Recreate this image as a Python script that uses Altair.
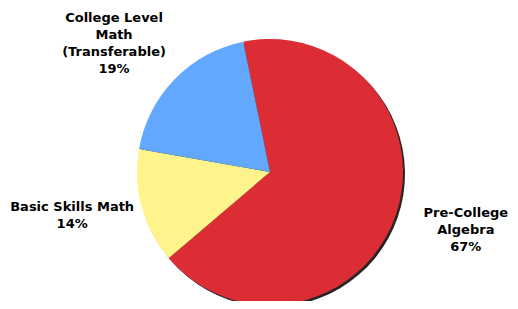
import altair as alt
import pandas as pd
import math

categories = ["Pre-College Algebra", "Basic Skills Math", "College Level Math (Transferable)"]
labels = ["Pre-College\nAlgebra\n67%", "Basic Skills Math\n14%", "College Level\nMath\n(Transferable)\n19%"]
values = [67, 14, 19]
colors = ["#DC2D35", "#FFF38C", "#63A8FF"]
order = [0, 1, 2]

df = pd.DataFrame({"cat": categories, "label": labels, "value": values, "ord": order})

start = math.radians(348.4)
theta_scale = alt.Scale(domain=[0, 100], range=[start, start + 2 * math.pi])
cx, cy = 262, 164

base = alt.Chart(df).encode(
    theta=alt.Theta("value:Q", stack=True, scale=theta_scale),
    order=alt.Order("ord:Q"),
)

shadow = base.mark_arc(radius=133, color="black", opacity=0.85).encode(
    x=alt.value(cx + 2), y=alt.value(cy + 2)
)

pie = base.mark_arc(radius=133).encode(
    color=alt.Color("cat:N", scale=alt.Scale(domain=categories, range=colors), legend=None),
    x=alt.value(cx), y=alt.value(cy),
)

offsets = {categories[0]: (2, -26), categories[1]: (0, -19), categories[2]: (-9, -11)}

text_base = alt.Chart(df).transform_window(
    cum="sum(value)", sort=[alt.SortField("ord")]
).transform_calculate(mid="datum.cum - datum.value / 2")

text_layers = []
for cat in categories:
    ox, oy = offsets[cat]
    text_layers.append(
        text_base.transform_filter(alt.datum.cat == cat).mark_text(
            radius=205, lineBreak="\n", font="DejaVu Sans", fontWeight="bold", fontSize=13,
            lineHeight=17, align="center", baseline="middle", color="black", dx=ox, dy=oy
        ).encode(
            theta=alt.Theta("mid:Q", stack=None, scale=theta_scale),
            text="label:N", x=alt.value(cx), y=alt.value(cy),
        )
    )

chart = alt.layer(shadow, pie, *text_layers).properties(
    width=502, height=293, padding=0, autosize=alt.AutoSizeParams(type="none")
).configure_view(stroke=None)

chart.save("out.html", embed_options={"renderer": "svg", "actions": False})
